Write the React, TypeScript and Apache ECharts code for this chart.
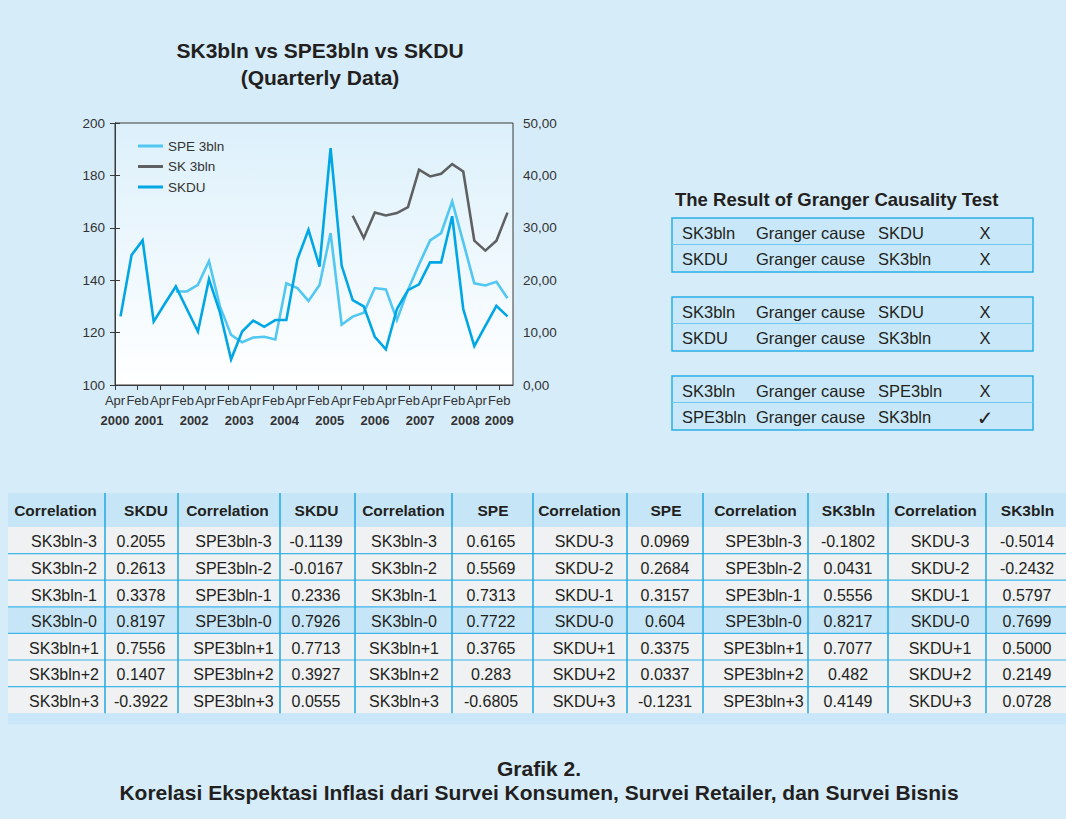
import React, { useEffect, useRef } from 'react';
import * as echarts from 'echarts';

// ---------- chart data ----------
const quarters = [
  '2000Q4',
  '2001Q1', '2001Q2', '2001Q3', '2001Q4',
  '2002Q1', '2002Q2', '2002Q3', '2002Q4',
  '2003Q1', '2003Q2', '2003Q3', '2003Q4',
  '2004Q1', '2004Q2', '2004Q3', '2004Q4',
  '2005Q1', '2005Q2', '2005Q3', '2005Q4',
  '2006Q1', '2006Q2', '2006Q3', '2006Q4',
  '2007Q1', '2007Q2', '2007Q3', '2007Q4',
  '2008Q1', '2008Q2', '2008Q3', '2008Q4',
  '2009Q1', '2009Q2', '2009Q3',
];

const spe3bln = [
  null, null, null, null, null,
  135.7, 135.7, 138.2, 147.3, 129.9, 119.1, 116.3, 118.1, 118.4, 117.4,
  138.8, 137.0, 132.1, 138.2, 158.0, 123.0, 126.1, 127.6, 137.0, 136.5,
  124.8, 136.3, 146.0, 155.2, 158.0, 170.1, 154.5, 138.8, 138.0, 139.4, 133.1,
];

const sk3bln = [
  null, null, null, null, null, null, null, null, null, null, null,
  null, null, null, null, null, null, null, null, null, null,
  164.6, 156.1, 165.8, 164.7, 165.6, 167.9, 182.2, 179.6, 180.6, 184.3,
  181.5, 155.1, 151.3, 155.1, 165.8,
];

const skdu = [
  13.1, 24.8, 27.6, 12.1, 15.5, 18.8, 14.5, 10.2, 20.2, 13.8,
  4.9, 10.2, 12.3, 11.1, 12.4, 12.4, 24.0, 29.6, 22.6, 45.2,
  22.8, 16.2, 15.0, 9.2, 6.8, 14.5, 18.1, 19.2, 23.4, 23.4,
  32.2, 14.5, 7.4, 11.3, 15.1, 13.1,
];

const monthTickLabels = [
  'Apr', 'Feb', 'Apr', 'Feb', 'Apr', 'Feb', 'Apr', 'Feb', 'Apr',
  'Feb', 'Apr', 'Feb', 'Apr', 'Feb', 'Apr', 'Feb', 'Apr', 'Feb',
];
const yearTickLabels = ['2000', '2001', '2002', '2003', '2004', '2005', '2006', '2007', '2008', '2009'];

const seriesNames = ['SPE 3bln', 'SK 3bln', 'SKDU'];

const chartTitle = ['SK3bln vs SPE3bln vs SKDU', '(Quarterly Data)'];

// ---------- Granger table ----------
const grangerTitle = 'The Result of Granger Causality Test';
const grangerRows = [
  ['SK3bln', 'Granger cause', 'SKDU', 'X'],
  ['SKDU', 'Granger cause', 'SK3bln', 'X'],
  ['SK3bln', 'Granger cause', 'SKDU', 'X'],
  ['SKDU', 'Granger cause', 'SK3bln', 'X'],
  ['SK3bln', 'Granger cause', 'SPE3bln', 'X'],
  ['SPE3bln', 'Granger cause', 'SK3bln', '\u2713'],
];

// ---------- Correlation table ----------
const corrHeader = 'Correlation';
const corrTargets = ['SKDU', 'SKDU', 'SPE', 'SPE', 'SK3bln', 'SK3bln'];
const lagsSK = ['SK3bln-3', 'SK3bln-2', 'SK3bln-1', 'SK3bln-0', 'SK3bln+1', 'SK3bln+2', 'SK3bln+3'];
const lagsSPE = ['SPE3bln-3', 'SPE3bln-2', 'SPE3bln-1', 'SPE3bln-0', 'SPE3bln+1', 'SPE3bln+2', 'SPE3bln+3'];
const lagsSKDU = ['SKDU-3', 'SKDU-2', 'SKDU-1', 'SKDU-0', 'SKDU+1', 'SKDU+2', 'SKDU+3'];
const corrSK_SKDU = ['0.2055', '0.2613', '0.3378', '0.8197', '0.7556', '0.1407', '-0.3922'];
const corrSPE_SKDU = ['-0.1139', '-0.0167', '0.2336', '0.7926', '0.7713', '0.3927', '0.0555'];
const corrSK_SPE = ['0.6165', '0.5569', '0.7313', '0.7722', '0.3765', '0.283', '-0.6805'];
const corrSKDU_SPE = ['0.0969', '0.2684', '0.3157', '0.604', '0.3375', '0.0337', '-0.1231'];
const corrSPE_SK = ['-0.1802', '0.0431', '0.5556', '0.8217', '0.7077', '0.482', '0.4149'];
const corrSKDU_SK = ['-0.5014', '-0.2432', '0.5797', '0.7699', '0.5000', '0.2149', '0.0728'];
const corrGroups = [
  { lags: lagsSK, values: corrSK_SKDU },
  { lags: lagsSPE, values: corrSPE_SKDU },
  { lags: lagsSK, values: corrSK_SPE },
  { lags: lagsSKDU, values: corrSKDU_SPE },
  { lags: lagsSPE, values: corrSPE_SK },
  { lags: lagsSKDU, values: corrSKDU_SK },
];
const highlightRow = 3;

const caption = [
  'Grafik 2.',
  'Korelasi Ekspektasi Inflasi dari Survei Konsumen, Survei Retailer, dan Survei Bisnis',
];

// ---------- layout / style ----------
const FONT = '"Liberation Sans", Arial, Helvetica, sans-serif';
const TXT = '#231f20';
const AXIS = '#3a3a3a';
const PAGE_BG = '#d6ecf9';
const COLORS = ['#52c7f1', '#5f6062', '#00a7e4'];
const MONTH_AXIS_MAX = 17.61;
const yearTickAt = [0, 1.5, 3.5, 5.5, 7.5, 9.5, 11.5, 13.5, 15.5, 17];

const grangerBoxTops = [218, 297, 376];
const grangerBox = { x: 672, w: 361, h: 54 };
const grangerCols = [682, 756, 878];
const grangerResultX = 985;

const tableTop = 493;
const headerH = 34;
const rowH = 26.6;
const colLines = [105, 178, 280, 355, 452, 533, 627, 703, 808, 888, 986];
const headerCorrX = [55.5, 227.5, 403.5, 579.5, 755.5, 935.5];
const headerTargetX = [146, 316.5, 493, 666, 848.5, 1027.5];
const lagX = [64, 233.5, 404, 584, 763.5, 940];
const valueX = [141, 316, 491, 665, 848, 1027];

function txt(x: number, y: number, text: string, size: number, bold = false, align = 'center', family = FONT) {
  return {
    type: 'text',
    x,
    y,
    silent: true,
    style: {
      text,
      fill: TXT,
      fontSize: size,
      fontWeight: bold ? 'bold' : 'normal',
      fontFamily: family,
      textAlign: align,
      textVerticalAlign: 'middle',
    },
  };
}

function buildGraphics() {
  const g: any[] = [];
  // title
  g.push(txt(320, 50, chartTitle[0], 21, true));
  g.push(txt(320, 77, chartTitle[1], 21, true));

  // granger
  g.push(txt(675, 199, grangerTitle, 18.5, true, 'left'));
  grangerBoxTops.forEach((top, b) => {
    g.push({
      type: 'rect',
      silent: true,
      shape: { x: grangerBox.x, y: top, width: grangerBox.w, height: grangerBox.h },
      style: { fill: '#c8e8f9', stroke: '#2aaee6', lineWidth: 1.5 },
    });
    g.push({
      type: 'line',
      silent: true,
      shape: { x1: grangerBox.x, y1: top + 26.5, x2: grangerBox.x + grangerBox.w, y2: top + 26.5 },
      style: { stroke: '#6cc8ef', lineWidth: 1.2 },
    });
    [0, 1].forEach((r) => {
      const row = grangerRows[b * 2 + r];
      const y = top + (r === 0 ? 15 : 41);
      row.slice(0, 3).forEach((t, c) => g.push(txt(grangerCols[c], y, t, 16.5, false, 'left')));
      const isCheck = row[3] === '\u2713';
      g.push(
        txt(grangerResultX, y + (isCheck ? 1 : 0), row[3], isCheck ? 20 : 16.5, false, 'center',
          isCheck ? '"DejaVu Sans", sans-serif' : FONT)
      );
    });
  });

  // correlation table
  const nRows = 7;
  const bodyTop = tableTop + headerH;
  const bodyBottom = bodyTop + nRows * rowH;
  g.push({
    type: 'rect', silent: true,
    shape: { x: 8, y: tableTop, width: 1058, height: headerH },
    style: { fill: '#c6e6f8' },
  });
  for (let r = 0; r < nRows; r++) {
    g.push({
      type: 'rect', silent: true,
      shape: { x: 8, y: bodyTop + r * rowH, width: 1058, height: rowH },
      style: { fill: r === highlightRow ? '#c6e6f8' : '#eff1f3' },
    });
  }
  g.push({
    type: 'rect', silent: true,
    shape: { x: 8, y: bodyBottom, width: 1058, height: 11 },
    style: { fill: '#c9e7f8' },
  });
  for (let r = 1; r < nRows; r++) {
    g.push({
      type: 'line', silent: true,
      shape: { x1: 8, y1: bodyTop + r * rowH, x2: 1066, y2: bodyTop + r * rowH },
      style: { stroke: '#3fb5e8', lineWidth: 1.2 },
    });
  }
  colLines.forEach((x) => {
    g.push({
      type: 'line', silent: true,
      shape: { x1: x, y1: tableTop, x2: x, y2: bodyBottom },
      style: { stroke: '#1fa8e2', lineWidth: 1.5 },
    });
  });
  corrGroups.forEach((grp, i) => {
    g.push(txt(headerCorrX[i], tableTop + headerH / 2 + 0.5, corrHeader, 15.5, true));
    g.push(txt(headerTargetX[i], tableTop + headerH / 2 + 0.5, corrTargets[i], 15.5, true));
    for (let r = 0; r < nRows; r++) {
      const y = bodyTop + r * rowH + rowH / 2 + 1.5;
      g.push(txt(lagX[i], y, grp.lags[r], 16));
      g.push(txt(valueX[i], y, grp.values[r], 16));
    }
  });

  // caption
  g.push(txt(539, 768, caption[0], 21, true));
  g.push(txt(539, 792, caption[1], 21, true));
  return g;
}

export default function App() {
  const ref = useRef<HTMLDivElement>(null);

  useEffect(() => {
    if (!ref.current) return;
    const chart = echarts.init(ref.current, null, { renderer: 'svg' });
    const axisLabelStyle = { color: '#333', fontSize: 13, fontFamily: FONT };
    const option: any = {
      animation: false,
      backgroundColor: PAGE_BG,
      textStyle: { fontFamily: FONT },
      grid: {
        left: 115,
        top: 123,
        width: 398,
        height: 262,
        show: true,
        borderWidth: 1,
        borderColor: AXIS,
        backgroundColor: new echarts.graphic.LinearGradient(0, 0, 0, 1, [
          { offset: 0, color: '#dcf0fb' },
          { offset: 1, color: '#ffffff' },
        ]),
      },
      legend: {
        orient: 'vertical',
        left: 133,
        top: 134,
        icon: 'rect',
        itemWidth: 25,
        itemHeight: 3,
        itemGap: 6.5,
        data: seriesNames,
        textStyle: { color: '#333', fontSize: 13.5, lineHeight: 14, fontFamily: FONT },
      },
      xAxis: [
        {
          type: 'category',
          data: quarters,
          boundaryGap: true,
          axisLine: { show: true, lineStyle: { color: AXIS, width: 1 } },
          axisTick: { show: false },
          axisLabel: { show: false },
          splitLine: { show: false },
        },
        {
          type: 'value',
          position: 'bottom',
          min: 0,
          max: MONTH_AXIS_MAX,
          interval: 1,
          axisLine: { show: false },
          axisTick: {
            show: true,
            length: 5,
            lineStyle: { color: AXIS },
            customValues: monthTickLabels.map((_, i) => i),
          },
          axisLabel: {
            ...axisLabelStyle,
            fontSize: 13,
            margin: 9,
            customValues: monthTickLabels.map((_, i) => i),
            formatter: (v: number) => (Number.isInteger(v) && monthTickLabels[v] ? monthTickLabels[v] : ''),
          },
          splitLine: { show: false },
        },
        {
          type: 'value',
          position: 'bottom',
          offset: 21,
          min: 0,
          max: MONTH_AXIS_MAX,
          interval: 0.5,
          axisLine: { show: false },
          axisTick: { show: false },
          axisLabel: {
            ...axisLabelStyle,
            fontWeight: 'bold',
            margin: 8,
            customValues: yearTickAt,
            formatter: (v: number) => {
              const i = yearTickAt.indexOf(v);
              return i >= 0 ? yearTickLabels[i] : '';
            },
          },
          splitLine: { show: false },
        },
      ],
      yAxis: [
        {
          type: 'value',
          position: 'left',
          min: 100,
          max: 200,
          interval: 20,
          axisLine: { show: true, lineStyle: { color: AXIS } },
          axisTick: { show: true, length: 5, lineStyle: { color: AXIS } },
          axisLabel: { ...axisLabelStyle, fontSize: 13.5, margin: 10 },
          splitLine: { show: false },
        },
        {
          type: 'value',
          position: 'right',
          min: 0,
          max: 50,
          interval: 10,
          axisLine: { show: true, lineStyle: { color: AXIS } },
          axisTick: { show: true, length: 5, lineStyle: { color: AXIS } },
          axisLabel: {
            ...axisLabelStyle,
            fontSize: 13.5,
            margin: 10,
            formatter: (v: number) => v.toFixed(2).replace('.', ','),
          },
          splitLine: { show: false },
        },
      ],
      series: [
        {
          name: seriesNames[0], type: 'line', xAxisIndex: 0, yAxisIndex: 0, data: spe3bln,
          symbol: 'none', connectNulls: false, color: COLORS[0],
          lineStyle: { width: 2.6, color: COLORS[0], join: 'miter' },
        },
        {
          name: seriesNames[1], type: 'line', xAxisIndex: 0, yAxisIndex: 0, data: sk3bln,
          symbol: 'none', connectNulls: false, color: COLORS[1],
          lineStyle: { width: 2.6, color: COLORS[1], join: 'miter' },
        },
        {
          name: seriesNames[2], type: 'line', xAxisIndex: 0, yAxisIndex: 1, data: skdu,
          symbol: 'none', connectNulls: false, color: COLORS[2],
          lineStyle: { width: 2.6, color: COLORS[2], join: 'miter' },
        },
      ],
      graphic: buildGraphics(),
    };
    chart.setOption(option);
    return () => chart.dispose();
  }, []);

  return (
    <div
      ref={ref}
      style={{ position: 'fixed', left: 0, top: 0, width: 1066, height: 819 }}
    />
  );
}
